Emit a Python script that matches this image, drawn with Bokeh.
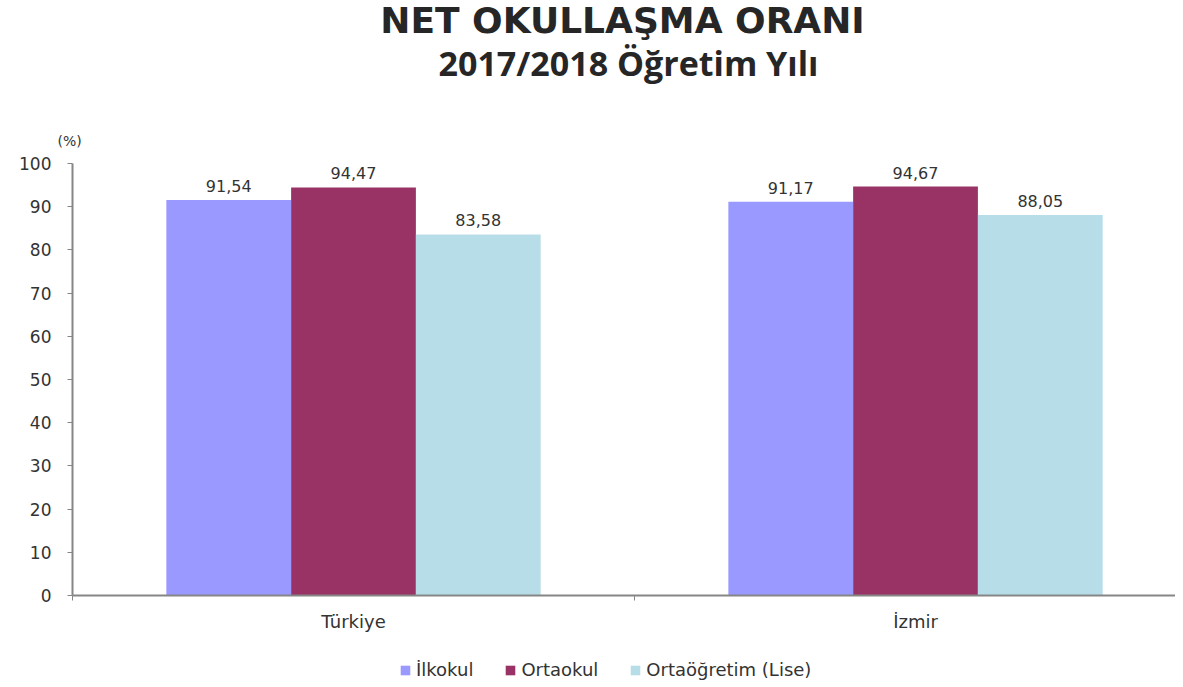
from bokeh.plotting import figure
from bokeh.layouts import column
from bokeh.models import (Range1d, FixedTicker, ColumnDataSource, LabelSet, Label,
                          Legend, LegendItem)
from bokeh.transform import dodge
from bokeh.embed import file_html
from bokeh.resources import INLINE
from bokeh.core.properties import value

# ---- data ----
categories = ["Türkiye", "İzmir"]
series_names = ["İlkokul", "Ortaokul", "Ortaöğretim (Lise)"]
ilkokul = [91.54, 91.17]
ortaokul = [94.47, 94.67]
lise = [83.58, 88.05]
y_ticks = [0, 10, 20, 30, 40, 50, 60, 70, 80, 90, 100]
title_text = "NET OKULLAŞMA ORANI"
subtitle_text = "2017/2018 Öğretim Yılı"
unit_text = "(%)"

colors = ["#9999FF", "#993366", "#B7DEE8"]
series_values = [ilkokul, ortaokul, lise]
offsets = [-0.222, 0.0, 0.222]
bar_w = 0.222
FONT = "DejaVu Sans"
TXT = "#333333"
AXC = "#868686"
W = 1175
HDR_H = 115
FTR_H = 47
MAIN_H = 635 - HDR_H   # chart block ends at 635

# ---- header (title block); frame aligned with the chart frame (72..1175) ----
hdr = figure(width=W, height=HDR_H, x_range=Range1d(72, W), y_range=Range1d(HDR_H, 0),
             x_axis_location=None, y_axis_location=None,
             output_backend="svg", toolbar_location=None,
             min_border_left=72, min_border_right=0, min_border_top=0, min_border_bottom=0)
hdr.outline_line_color = None
hdr.xgrid.visible = False
hdr.ygrid.visible = False
hdr.add_layout(Label(x=622, y=20, text=title_text, text_align="center",
                     text_baseline="middle", text_font="DejaVu Sans",
                     text_font_size="36px", text_font_style="bold", text_color="#262626"))
hdr.add_layout(Label(x=628, y=62, text=subtitle_text, text_align="center",
                     text_baseline="middle", text_font="Open Sans",
                     text_font_size="34px", text_font_style="bold", text_color="#262626"))

# ---- main chart ----
x_pos = [i + 0.5 for i in range(len(categories))]
data = dict(x=x_pos, cat=categories)
for k, vals in zip(["s0", "s1", "s2"], series_values):
    data[k] = vals
    data[k + "_lbl"] = [f"{v:.2f}".replace(".", ",") for v in vals]
src = ColumnDataSource(data)

p = figure(width=W, height=MAIN_H,
           x_range=Range1d(0, 1.9626), y_range=Range1d(0, 100),
           output_backend="svg", toolbar_location=None,
           min_border_left=72, min_border_right=0,
           min_border_top=48, min_border_bottom=40)
p.outline_line_color = None
p.xgrid.visible = False
p.ygrid.visible = False
p.title.text = unit_text
p.title.align = "left"
p.title.offset = -15
p.title.standoff = 30
p.title.text_font = FONT
p.title.text_font_size = "14px"
p.title.text_font_style = "normal"
p.title.text_color = TXT

for i, k in enumerate(["s0", "s1", "s2"]):
    p.vbar(x=dodge("x", offsets[i]), top=k, width=bar_w, source=src,
           fill_color=colors[i], line_color=None)
    p.add_layout(LabelSet(x=dodge("x", offsets[i]), y=k, text=k + "_lbl", source=src,
                          text_align="center", text_baseline="bottom", y_offset=8,
                          text_font=value(FONT), text_font_size="16px", text_color=TXT))

xa = p.xaxis[0]
xa.ticker = FixedTicker(ticks=x_pos, minor_ticks=[0, 1, 2])
xa.major_label_overrides = {x: c for x, c in zip(x_pos, categories)}
xa.major_tick_out = 0
xa.major_tick_in = 0
xa.minor_tick_out = 5
xa.minor_tick_in = 0
xa.minor_tick_line_color = AXC
xa.axis_line_color = AXC
xa.axis_line_width = 2
xa.major_label_standoff = 10
xa.major_label_text_font = FONT
xa.major_label_text_font_size = "18px"
xa.major_label_text_color = TXT

ya = p.yaxis[0]
ya.ticker = FixedTicker(ticks=y_ticks)
ya.major_tick_out = 5
ya.major_tick_in = 0
ya.minor_tick_line_color = None
ya.major_tick_line_color = AXC
ya.axis_line_color = AXC
ya.axis_line_width = 2
ya.major_label_standoff = 16
ya.major_label_text_font = FONT
ya.major_label_text_font_size = "17px"
ya.major_label_text_color = TXT

# ---- footer (legend); frame aligned with chart frame ----
ftr = figure(width=W, height=FTR_H, x_range=Range1d(72, W), y_range=Range1d(0, FTR_H),
             x_axis_location=None, y_axis_location=None,
             output_backend="svg", toolbar_location=None,
             min_border_left=72, min_border_right=0, min_border_top=0, min_border_bottom=0)
ftr.outline_line_color = None
ftr.xgrid.visible = False
ftr.ygrid.visible = False
items = []
for i, (name, k) in enumerate(zip(series_names, ["s0", "s1", "s2"])):
    r = ftr.vbar(x=dodge("x", offsets[i]), top=k, width=bar_w, source=src,
                 fill_color=colors[i], line_color=None, visible=False)
    items.append(LegendItem(label=name, renderers=[r]))
ftr.add_layout(Legend(items=items, orientation="horizontal", location=(327, 2),
                      glyph_width=12, glyph_height=12, label_standoff=5, spacing=31,
                      padding=0, margin=0, border_line_color=None, background_fill_alpha=0,
                      inactive_fill_alpha=0,
                      label_text_font=FONT, label_text_font_size="18px", label_text_color=TXT))

layout = column(hdr, p, ftr, spacing=0)
open("out.html", "w").write(file_html(layout, INLINE))
